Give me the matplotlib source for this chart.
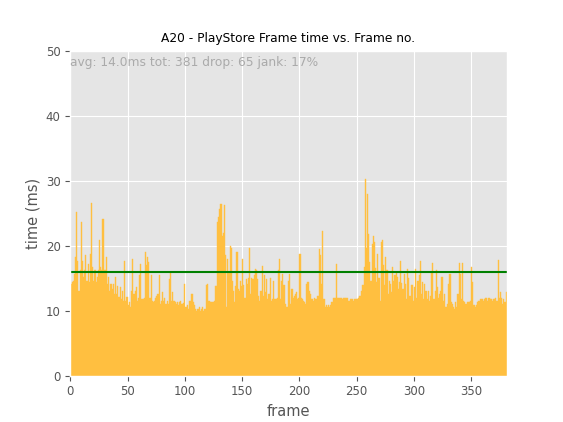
import matplotlib
matplotlib.use("Agg")
import matplotlib.pyplot as plt
import numpy as np

plt.style.use("ggplot")

title = "A20 - PlayStore Frame time vs. Frame no."
stats_text = "avg: 14.0ms tot: 381 drop: 65 jank: 17%"
threshold = 16.0

frame_times = [
    # 0-9
    14.1, 14.4, 14.6, 15.6, 18.2, 25.1, 17.7, 13.0, 16.2, 23.6,
    # 10-19
    17.7, 15.1, 16.2, 18.5, 14.6, 17.2, 14.4, 18.7, 26.6, 16.7,
    # 20-29
    14.6, 16.2, 14.4, 15.1, 16.2, 20.9, 16.7, 16.2, 24.1, 16.2,
    # 30-39
    16.2, 18.2, 14.1, 15.1, 13.0, 14.1, 13.3, 14.1, 12.6, 15.1,
    # 40-49
    12.6, 13.8, 12.1, 13.6, 11.8, 13.0, 11.5, 17.7, 11.5, 12.1,
    # 50-59
    10.8, 11.3, 10.5, 13.0, 18.0, 12.6, 13.0, 13.6, 11.5, 12.0,
    # 60-69
    15.5, 17.2, 11.8, 11.8, 12.0, 19.0, 17.0, 18.3, 17.5, 12.0,
    # 70-79
    15.4, 11.5, 11.3, 11.5, 12.0, 12.3, 12.6, 15.4, 11.0, 11.5,
    # 80-89
    12.8, 11.5, 12.0, 11.0, 11.5, 11.0, 14.9, 15.9, 11.5, 12.8,
    # 90-99
    11.5, 11.3, 11.0, 11.3, 10.8, 11.3, 11.5, 11.0, 11.2, 14.1,
    # 100-109
    10.5, 10.5, 10.8, 10.3, 11.5, 12.6, 12.6, 11.3, 10.8, 10.3,
    # 110-119
    10.0, 10.3, 10.5, 10.0, 10.2, 10.5, 10.0, 10.3, 14.0, 14.1,
    # 120-129
    11.5, 11.5, 11.3, 11.3, 11.3, 11.5, 13.8, 13.8, 23.6, 24.4,
    # 130-139
    25.6, 26.4, 21.5, 22.0, 26.2, 18.5, 10.5, 18.0, 16.0, 20.0,
    # 140-149
    19.7, 14.6, 13.0, 11.3, 13.8, 19.0, 13.3, 13.0, 14.6, 13.8,
    # 150-159
    18.0, 14.0, 12.0, 14.9, 14.1, 15.0, 19.7, 12.5, 15.0, 14.9,
    # 160-169
    15.5, 16.4, 16.2, 14.9, 12.3, 11.5, 13.0, 16.9, 12.3, 15.4,
    # 170-179
    12.8, 14.9, 11.8, 12.5, 15.0, 11.5, 11.8, 14.6, 11.8, 11.8,
    # 180-189
    12.0, 16.2, 18.0, 11.8, 14.6, 15.6, 14.0, 11.0, 10.5, 10.5,
    # 190-199
    14.6, 15.6, 11.0, 13.3, 12.0, 12.3, 12.5, 12.8, 11.8, 12.0,
    # 200-209
    18.7, 12.0, 11.8, 11.5, 11.3, 11.0, 14.1, 14.4, 13.0, 12.6,
    # 210-219
    11.8, 11.8, 11.5, 12.0, 11.8, 12.3, 12.3, 19.5, 18.5, 14.1,
    # 220-229
    22.3, 11.8, 10.5, 10.8, 10.5, 10.8, 10.5, 10.8, 11.3, 12.0,
    # 230-239
    12.0, 12.0, 17.2, 12.0, 12.0, 12.0, 12.0, 11.8, 12.0, 11.9,
    # 240-249
    12.0, 12.0, 11.5, 11.5, 11.8, 11.8, 11.8, 11.5, 11.8, 11.8,
    # 250-259
    11.8, 12.0, 12.3, 12.3, 13.0, 14.0, 16.7, 30.3, 19.7, 28.0,
    # 260-269
    21.8, 17.5, 14.6, 20.3, 21.5, 20.5, 16.5, 14.4, 18.7, 15.0,
    # 270-279
    11.5, 20.5, 20.8, 17.0, 14.0, 18.2, 16.2, 12.6, 14.6, 14.1,
    # 280-289
    12.8, 16.7, 14.6, 15.4, 15.9, 15.1, 13.3, 14.4, 17.7, 14.3,
    # 290-299
    13.3, 15.6, 14.1, 11.8, 16.4, 15.0, 12.3, 14.0, 14.0, 11.5,
    # 300-309
    13.6, 16.4, 12.0, 14.6, 15.4, 17.7, 12.6, 14.4, 11.8, 14.1,
    # 310-319
    13.0, 11.8, 13.0, 11.5, 12.3, 15.9, 17.4, 11.8, 13.0, 16.2,
    # 320-329
    13.6, 12.0, 12.6, 13.0, 15.1, 11.5, 12.6, 10.5, 10.5, 11.0,
    # 330-339
    14.1, 15.6, 11.3, 11.0, 10.5, 10.3, 11.3, 10.5, 12.5, 17.4,
    # 340-349
    15.6, 11.8, 17.4, 11.5, 11.3, 11.0, 11.3, 11.3, 11.3, 11.5,
    # 350-359
    16.7, 14.4, 10.8, 10.5, 10.8, 11.3, 11.5, 11.5, 11.8, 11.8,
    # 360-369
    11.5, 11.8, 12.0, 12.0, 11.5, 12.0, 11.8, 11.8, 11.5, 11.8,
    # 370-380
    11.8, 12.0, 11.5, 17.8, 12.0, 12.8, 12.0, 11.0, 11.8, 11.3, 12.8,
]

frames = np.arange(len(frame_times))

fig = plt.figure(figsize=(5.63, 4.22), dpi=100)
ax = fig.add_subplot(111)
ax.bar(frames, frame_times, width=1.0, align="edge", color="#FFBF40",
       edgecolor="#FFBF40", linewidth=0.3)
ax.axhline(threshold, color="green", linewidth=1.5)
ax.set_xlim(0, len(frame_times))
ax.set_ylim(0, 50)
ax.set_xlabel("frame", fontsize=10.5)
ax.set_ylabel("time (ms)", fontsize=10.5)
ax.set_title(title, fontsize=8.8, color="black")
ax.tick_params(labelsize=8.5)
ax.text(0.0, 0.985, stats_text, transform=ax.transAxes, ha="left", va="top",
        fontsize=8.8, color="#AAAAAA")
fig.savefig("out.png", dpi=100)
